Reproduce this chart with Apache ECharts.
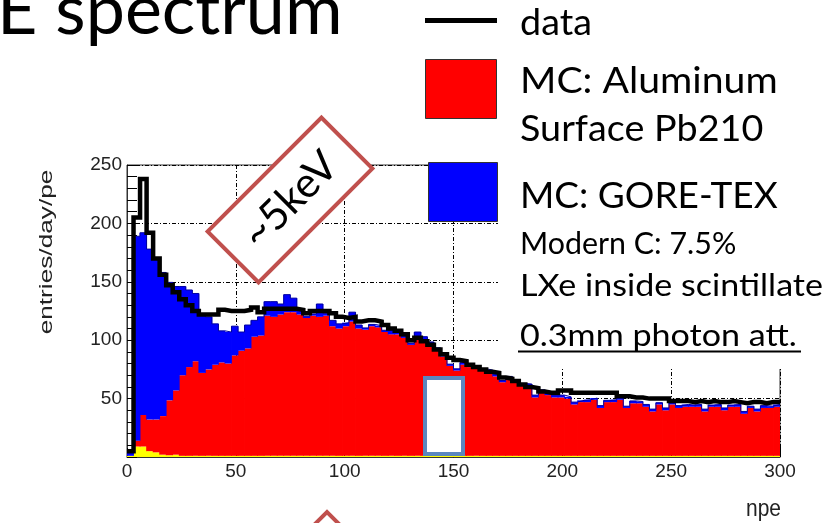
<!DOCTYPE html>
<html><head><meta charset="utf-8">
<script src="https://cdn.jsdelivr.net/npm/echarts@6/dist/echarts.min.js"></script>
<style>html,body{margin:0;padding:0;background:#fff;overflow:hidden}#c{width:830px;height:523px}</style>
</head><body><div id="c"></div>
<script>
// histogram bin width in npe
const BIN_WIDTH = 3;
const X_MIN = 0, X_MAX = 300, X_STEP = 50;
const Y_MIN = 0, Y_MAX = 250, Y_STEP = 50;

// black: data (entries/day/pe)
const dataVals = [
  5,205,238,192,170,156,147,141,135,130,
  125,122,122,122,126,125,125,125,126,128,
  124,127,127,127,127,127,126,123,125,125,
  125,123,120,119,120,116,117,117,116,113,
  110,108,105,100,102,99,96,92,88,85,
  83,82,79,77,75,73,72,68,67,65,
  62,60,59,56,55,55,57,57,55,55,
  55,55,55,55,55,52,52,51,51,50,
  50,50,50,48,48,48,47,48,47,48,
  47,47,48,47,46,47,47,46,47,47
];
// yellow: small bottom component
const yellowVals = [
  1,9,9,5,4,2,1.5,2,1,1,
  1,1,1,1,1,1,1,1,1,1,
  1,1,1,1,1,1,1,1,1,1,
  1,1,1,1,1,1,1,1,1,1,
  1,1,1,1,1,1,1,1,1,1,
  1,1,1,1,1,1,1,1,1,1,
  1,1,1,1,1,1,1,1,1,1,
  1,1,1,1,1,1,1,1,1,1,
  1,1,1,1,1,1,1,1,1,1,
  1,1,1,1,1,1,1,1,1,1
];
// red: MC Aluminum surface Pb210
const alVals = [
  0,5,27,27,28,33,47,55,69,76,
  81,71,74,78,80,79,86,90,92,102,
  103,120,119,121,123,123,121,118,120,119,
  120,111,109,111,115,109,108,111,110,106,
  104,104,101,95,102,99,96,91,85,77,
  73,78,76,75,73,72,68,63,66,63,
  60,60,50,55,52,50,50,49,44,46,
  46,48,41,46,46,48,41,45,45,42,
  38,44,39,44,41,42,42,42,38,42,
  42,39,42,42,36,41,38,41,41,42
];
// blue: MC GORE-TEX (stacked on top)
const goreVals = [
  3,175,156,146,138,123,101,89,76,66,
  58,50,45,35,27,27,25,16,20,14,
  16,12,13,9,15,12,5,1.5,1.5,11,
  2,5,4,3,8,3,1.5,1.5,1.5,1.5,
  4,4,1.5,1.5,4,3,1.5,1.5,1.5,1.5,
  1.5,2,1.5,2,1.5,1.5,2,1.5,2,1.5,
  2,1.5,2,1.5,2,2,2,1.5,2,1.5,
  2,1.5,2,1.5,2,2,1.5,2,1.5,2,
  2,1.5,2,1.5,2,2,1.5,2,2,1.5,
  2,2,1.5,2,2,1.5,2,2,1.5,2
];

const legendTexts = ['data', 'MC: Aluminum', 'Surface Pb210', 'MC: GORE-TEX'];
const noteTexts = ['Modern C: 7.5%', 'LXe inside scintillate', '0.3mm photon att.'];
const titleText = 'E spectrum';
const yTitle = 'entries/day/pe';
const xTitle = 'npe';
const calloutText = '~5keV';

// stacked components -> [xLeft, lo, hi, xRight]
const stackOrder = [yellowVals, alVals, goreVals];
const stackColors = ['#FFFF00', '#FF0000', '#0000FF'];
const stackNames = ['yellow', 'MC: Aluminum Surface Pb210', 'MC: GORE-TEX'];
const base = dataVals.map(() => 0);
const stackedData = stackOrder.map(vals => vals.map((v, i) => {
  const lo = base[i]; base[i] = lo + v;
  return [i * BIN_WIDTH, lo, lo + v, (i + 1) * BIN_WIDTH];
}));
const totalLine = base.map((v, i) => [i * BIN_WIDTH, v]);
totalLine.push([base.length * BIN_WIDTH, base[base.length - 1]]);
const dataLine = dataVals.map((v, i) => [i * BIN_WIDTH, v]);
dataLine.push([dataVals.length * BIN_WIDTH, dataVals[dataVals.length - 1]]);

const LAT = 'Lato, "Open Sans", sans-serif';
const ARI = '"Liberation Sans", Arial, sans-serif';

function histSeries(k) {
  const color = stackColors[k];
  return {
    name: stackNames[k], type: 'custom', xAxisIndex: 0, yAxisIndex: 0, silent: true,
    data: stackedData[k], encode: { x: [0, 3], y: [1, 2] }, z: 2 + k * 0.01, clip: true,
    renderItem(params, api) {
      const p0 = api.coord([api.value(0), api.value(1)]);
      const p1 = api.coord([api.value(3), api.value(2)]);
      const h = p0[1] - p1[1];
      if (h <= 0) return null;
      return { type: 'rect', shape: { x: p0[0] - 0.4, y: p1[1], width: p1[0] - p0[0] + 0.8, height: h }, style: { fill: color } };
    }
  };
}

const chart = echarts.init(document.getElementById('c'), null, { renderer: 'canvas' });
chart.setOption({
  animation: false,
  grid: { left: 127, right: 50, top: 165, bottom: 66, show: true, borderColor: '#333', borderWidth: 1 },
  xAxis: {
    type: 'value', min: X_MIN, max: X_MAX, interval: X_STEP, position: 'bottom',
    axisLine: { show: true, lineStyle: { color: '#333', width: 1 } },
    axisTick: { show: true, inside: true, length: 9, lineStyle: { color: '#000' } },
    axisLabel: { fontSize: 19, fontFamily: ARI, color: '#222', margin: 5 },
    splitLine: { show: true, lineStyle: { type: [4, 2, 1, 2], color: '#000', width: 1 } }
  },
  yAxis: {
    type: 'value', min: Y_MIN, max: Y_MAX, interval: Y_STEP,
    axisLine: { show: true, lineStyle: { color: '#333', width: 1 } },
    axisTick: { show: true, inside: true, length: 10, lineStyle: { color: '#000' } },
    minorTick: { show: true, splitNumber: 5, length: 10, lineStyle: { color: '#000' } },
    axisLabel: { fontSize: 19, fontFamily: ARI, color: '#222', margin: 5, formatter: v => (v === 0 ? '' : String(v)) },
    splitLine: { show: true, lineStyle: { type: [4, 2, 1, 2], color: '#000', width: 1 } }
  },
  series: [
    histSeries(0), histSeries(1), histSeries(2),
    {
      name: 'MC total', type: 'line', data: totalLine, step: 'end', showSymbol: false, symbol: 'none',
      z: 4, silent: true, lineStyle: { color: '#0000A0', width: 1 }
    },
    {
      name: 'data', type: 'line', data: dataLine, step: 'end', showSymbol: false, symbol: 'none',
      z: 5, silent: true, lineStyle: { color: '#000', width: 4.5, join: 'miter' }
    }
  ],
  graphic: [
    { type: 'rect', z: 100, shape: { x: 498, y: 140, width: 340, height: 229 }, style: { fill: '#fff' } },
    { type: 'text', z: 101, x: -3, y: 37 - 0.37 * 70, style: { text: titleText, fontSize: 70, fontFamily: LAT, fill: '#000', align: 'left', verticalAlign: 'middle' } },
    { type: 'line', z: 101, shape: { x1: 425, y1: 20.5, x2: 497, y2: 20.5 }, style: { stroke: '#000', lineWidth: 5 } },
    { type: 'rect', z: 101, shape: { x: 425.5, y: 59.5, width: 71, height: 59 }, style: { fill: '#FF0000', stroke: '#333', lineWidth: 1 } },
    { type: 'rect', z: 101, shape: { x: 428.5, y: 162.5, width: 69, height: 59 }, style: { fill: '#0000FF', stroke: '#333', lineWidth: 1 } },
    { type: 'text', z: 101, x: 520, y: 37 - 0.37 * 37, scaleX: 1.02, style: { text: legendTexts[0], fontSize: 37, fontFamily: LAT, fill: '#000', verticalAlign: 'middle' } },
    { type: 'text', z: 101, x: 520, y: 95 - 0.37 * 37, scaleX: 1.06, style: { text: legendTexts[1], fontSize: 37, fontFamily: LAT, fill: '#000', verticalAlign: 'middle' } },
    { type: 'text', z: 101, x: 520, y: 143 - 0.37 * 37, scaleX: 1.02, style: { text: legendTexts[2], fontSize: 37, fontFamily: LAT, fill: '#000', verticalAlign: 'middle' } },
    { type: 'text', z: 101, x: 520, y: 210 - 0.37 * 37, style: { text: legendTexts[3], fontSize: 37, fontFamily: LAT, fill: '#000', verticalAlign: 'middle' } },
    { type: 'text', z: 101, x: 520, y: 255 - 0.37 * 31, scaleX: 0.98, style: { text: noteTexts[0], fontSize: 31, fontFamily: LAT, fill: '#000', verticalAlign: 'middle' } },
    { type: 'text', z: 101, x: 520, y: 297 - 0.37 * 31, scaleX: 1.1, style: { text: noteTexts[1], fontSize: 31, fontFamily: LAT, fill: '#000', verticalAlign: 'middle' } },
    { type: 'text', z: 101, x: 520, y: 347 - 0.37 * 31, scaleX: 1.1, style: { text: noteTexts[2], fontSize: 31, fontFamily: LAT, fill: '#000', verticalAlign: 'middle' } },
    { type: 'line', z: 101, shape: { x1: 518, y1: 351.5, x2: 801, y2: 351.5 }, style: { stroke: '#000', lineWidth: 2 } },
    {
      type: 'group', z: 102, x: 290, y: 200, rotation: Math.PI / 4,
      children: [
        { type: 'rect', z: 102, shape: { x: -80.5, y: -36, width: 161, height: 72 }, style: { fill: '#fff', stroke: '#C0504D', lineWidth: 4 } },
        { type: 'text', z: 103, x: 0, y: 0, style: { text: calloutText, fontSize: 42, fontFamily: LAT, fill: '#000', align: 'center', verticalAlign: 'middle' } }
      ]
    },
    { type: 'rect', z: 102, shape: { x: 425, y: 378, width: 38, height: 76 }, style: { fill: '#fff', stroke: '#5B87BF', lineWidth: 4 } },
    { type: 'polygon', z: 102, shape: { points: [[311, 528], [327, 512], [343, 528]] }, style: { fill: '#fff', stroke: '#C0504D', lineWidth: 4 } },
    { type: 'text', z: 101, x: 47, y: 252, rotation: Math.PI / 2, scaleX: 1.38, style: { text: yTitle, fontSize: 19, fontFamily: ARI, fill: '#222', align: 'center', verticalAlign: 'middle' } },
    { type: 'text', z: 101, x: 781, y: 509, scaleY: 1.15, style: { text: xTitle, fontSize: 21, fontFamily: ARI, fill: '#222', align: 'right', verticalAlign: 'middle' } }
  ]
});
</script>
</body></html>
